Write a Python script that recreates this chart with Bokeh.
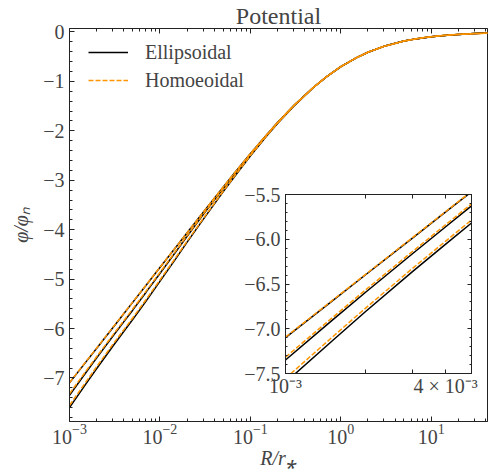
import numpy as np
from bokeh.plotting import figure
from bokeh.models import FixedTicker, LogAxis, LinearAxis, Legend, LegendItem, Range1d
from bokeh.layouts import column
from bokeh.embed import file_html
from bokeh.resources import INLINE

# ---------------- data ----------------
R = [0.001, 0.0015, 0.002, 0.003, 0.004, 0.005, 0.007, 0.01, 0.015, 0.02,
     0.03, 0.05, 0.07, 0.1, 0.15, 0.2, 0.3, 0.5, 0.7, 1.0,
     1.5, 2.0, 3.0, 5.0, 7.0, 10.0, 15.0, 20.0, 30.0, 45.0]

ell_1 = [-7.099, -6.689, -6.397, -5.987, -5.695, -5.470, -5.129, -4.765, -4.355, -4.062,
         -3.651, -3.140, -2.807, -2.463, -2.087, -1.832, -1.496, -1.119, -0.902, -0.703,
         -0.518, -0.410, -0.291, -0.184, -0.135, -0.095, -0.065, -0.049, -0.033, -0.022]
ell_2 = [-7.349, -6.904, -6.592, -6.162, -5.860, -5.628, -5.269, -4.885, -4.445, -4.132,
         -3.701, -3.170, -2.827, -2.478, -2.097, -1.837, -1.498, -1.119, -0.902, -0.703,
         -0.518, -0.410, -0.291, -0.184, -0.135, -0.095, -0.065, -0.049, -0.033, -0.022]
ell_3 = [-7.599, -7.134, -6.807, -6.362, -6.055, -5.818, -5.449, -5.045, -4.585, -4.252,
         -3.796, -3.235, -2.877, -2.508, -2.117, -1.852, -1.506, -1.124, -0.905, -0.705,
         -0.519, -0.411, -0.292, -0.184, -0.135, -0.095, -0.065, -0.049, -0.033, -0.022]

hom_1 = [-7.093, -6.683, -6.392, -5.982, -5.690, -5.465, -5.125, -4.761, -4.352, -4.059,
         -3.649, -3.138, -2.806, -2.462, -2.087, -1.832, -1.496, -1.119, -0.902, -0.703,
         -0.518, -0.410, -0.291, -0.184, -0.135, -0.095, -0.065, -0.049, -0.033, -0.022]
hom_2 = [-7.318, -6.876, -6.566, -6.137, -5.837, -5.605, -5.248, -4.866, -4.429, -4.118,
         -3.689, -3.161, -2.820, -2.472, -2.093, -1.834, -1.496, -1.118, -0.901, -0.702,
         -0.518, -0.410, -0.291, -0.184, -0.135, -0.095, -0.065, -0.049, -0.033, -0.022]
hom_3 = [-7.554, -7.093, -6.769, -6.326, -6.021, -5.785, -5.418, -5.017, -4.561, -4.231,
         -3.779, -3.223, -2.867, -2.501, -2.112, -1.848, -1.503, -1.122, -0.904, -0.704,
         -0.519, -0.411, -0.292, -0.184, -0.135, -0.095, -0.065, -0.049, -0.033, -0.022]

ell_series = [ell_1, ell_2, ell_3]
hom_series = [hom_1, hom_2, hom_3]

main_x_major = [1e-3, 1e-2, 1e-1, 1.0, 10.0]
main_y_major = [-7, -6, -5, -4, -3, -2, -1, 0]
main_y_labels = {-7: "\u22127", -6: "\u22126", -5: "\u22125", -4: "\u22124",
                 -3: "\u22123", -2: "\u22122", -1: "\u22121", 0: "0"}
inset_x_major = [1e-3, 2e-3, 3e-3, 4e-3]
inset_x_labels = {1e-3: "10\u207b\u00b3", 2e-3: "", 3e-3: "", 4e-3: "4 \u00d7 10\u207b\u00b3"}
inset_y_major = [-7.5, -7.0, -6.5, -6.0, -5.5]
inset_y_labels = {-7.5: "\u22127.5", -7.0: "\u22127.0", -6.5: "\u22126.5",
                  -6.0: "\u22126.0", -5.5: "\u22125.5"}

# ---------------- style ----------------
FONT = "Liberation Serif"
FS = "20px"
BLACK = "#000000"
ORANGE = "#ff9500"
FRAME = "#222222"

def log_minor(lo_exp, hi_exp):
    return [k * 10.0 ** e for e in range(lo_exp, hi_exp + 1) for k in range(2, 10)]

main_y_minor = [round(float(v), 2) for v in np.arange(-7.8, 0.01, 0.2)]
inset_y_minor = [round(float(v), 2) for v in np.arange(-7.5, -5.49, 0.1)]

def style_axis(ax, major_in=5, minor_in=3):
    ax.major_tick_in = major_in
    ax.major_tick_out = 0
    ax.minor_tick_in = minor_in
    ax.minor_tick_out = 0
    ax.axis_line_color = FRAME
    ax.major_tick_line_color = FRAME
    ax.minor_tick_line_color = FRAME
    ax.major_label_text_font = FONT
    ax.major_label_text_font_size = FS
    ax.axis_label_text_font = FONT
    ax.axis_label_text_font_size = FS
    ax.axis_label_text_font_style = "italic"

# ---------------- main figure ----------------
p = figure(width=497, height=476, x_axis_type="log",
           x_range=Range1d(1e-3, 42), y_range=Range1d(-7.88, 0.07),
           output_backend="svg", toolbar_location=None,
           min_border_left=69, min_border_right=0, min_border_top=26, min_border_bottom=55,
           outline_line_color=FRAME, title="Potential")
p.title.align = "center"
p.title.text_font = FONT
p.title.text_font_size = "24px"
p.title.text_font_style = "normal"
p.title.standoff = 0
p.xgrid.visible = False
p.ygrid.visible = False

p.xaxis.ticker = FixedTicker(ticks=main_x_major, minor_ticks=log_minor(-3, 1))
p.yaxis.ticker = FixedTicker(ticks=main_y_major, minor_ticks=main_y_minor)
p.yaxis.major_label_overrides = main_y_labels
p.xaxis.axis_label = "R/r\u204e"
p.yaxis.axis_label = "\u03c6/\u03c6\u2099"
for ax in [p.xaxis[0], p.yaxis[0]]:
    style_axis(ax)
p.xaxis.major_label_standoff = 2
p.xaxis.axis_label_standoff = 0
p.yaxis.major_label_standoff = 5
p.yaxis.axis_label_standoff = 8

top_ax = LogAxis(ticker=FixedTicker(ticks=main_x_major, minor_ticks=log_minor(-3, 1)))
style_axis(top_ax)
top_ax.major_label_overrides = {t: "" for t in main_x_major}
top_ax.major_label_standoff = 0
p.add_layout(top_ax, "above")

rE = None
rH = None
for ys in ell_series:
    rE = p.line(R, ys, line_color=BLACK, line_width=1.5)
for ys in hom_series:
    rH = p.line(R, ys, line_color=ORANGE, line_width=1.5, line_dash="5 2")

legend = Legend(items=[LegendItem(label="Ellipsoidal", renderers=[rE]),
                       LegendItem(label="Homoeoidal", renderers=[rH])],
                location=(19, 327), margin=0, padding=0, spacing=0,
                glyph_width=40, glyph_height=28, label_height=28,
                label_standoff=17, label_text_font=FONT, label_text_font_size=FS,
                border_line_alpha=0, background_fill_alpha=0)
p.add_layout(legend)

# ---------------- inset figure ----------------
q = figure(width=265, height=219, x_axis_type="log",
           x_range=Range1d(1e-3, 5e-3), y_range=Range1d(-7.5, -5.5),
           output_backend="svg", toolbar_location=None,
           min_border_left=60, min_border_right=10, min_border_top=10, min_border_bottom=30,
           border_fill_alpha=0, outline_line_color=FRAME)
q.margin = (-292, 0, 0, 216)
q.xgrid.visible = False
q.ygrid.visible = False
q.xaxis.ticker = FixedTicker(ticks=inset_x_major, minor_ticks=[])
q.xaxis.major_label_overrides = inset_x_labels
q.yaxis.ticker = FixedTicker(ticks=inset_y_major, minor_ticks=inset_y_minor)
q.yaxis.major_label_overrides = inset_y_labels
for ax in [q.xaxis[0], q.yaxis[0]]:
    style_axis(ax, 4, 2)
q.xaxis.major_label_standoff = 1
q.yaxis.major_label_standoff = 5

q_top = LogAxis(ticker=FixedTicker(ticks=inset_x_major, minor_ticks=[]))
style_axis(q_top, 4, 2)
q_top.major_label_overrides = {t: "" for t in inset_x_major}
q_top.major_label_standoff = 0
q.add_layout(q_top, "above")
q_right = LinearAxis(ticker=FixedTicker(ticks=inset_y_major, minor_ticks=inset_y_minor))
style_axis(q_right, 4, 2)
q_right.major_label_overrides = {t: "" for t in inset_y_major}
q_right.major_label_standoff = 0
q.add_layout(q_right, "right")

for ys in ell_series:
    q.line(R, ys, line_color=BLACK, line_width=1.5)
for ys in hom_series:
    q.line(R, ys, line_color=ORANGE, line_width=1.5, line_dash="5 2")

layout = column(p, q)
open("out.html", "w").write(file_html(layout, INLINE))
